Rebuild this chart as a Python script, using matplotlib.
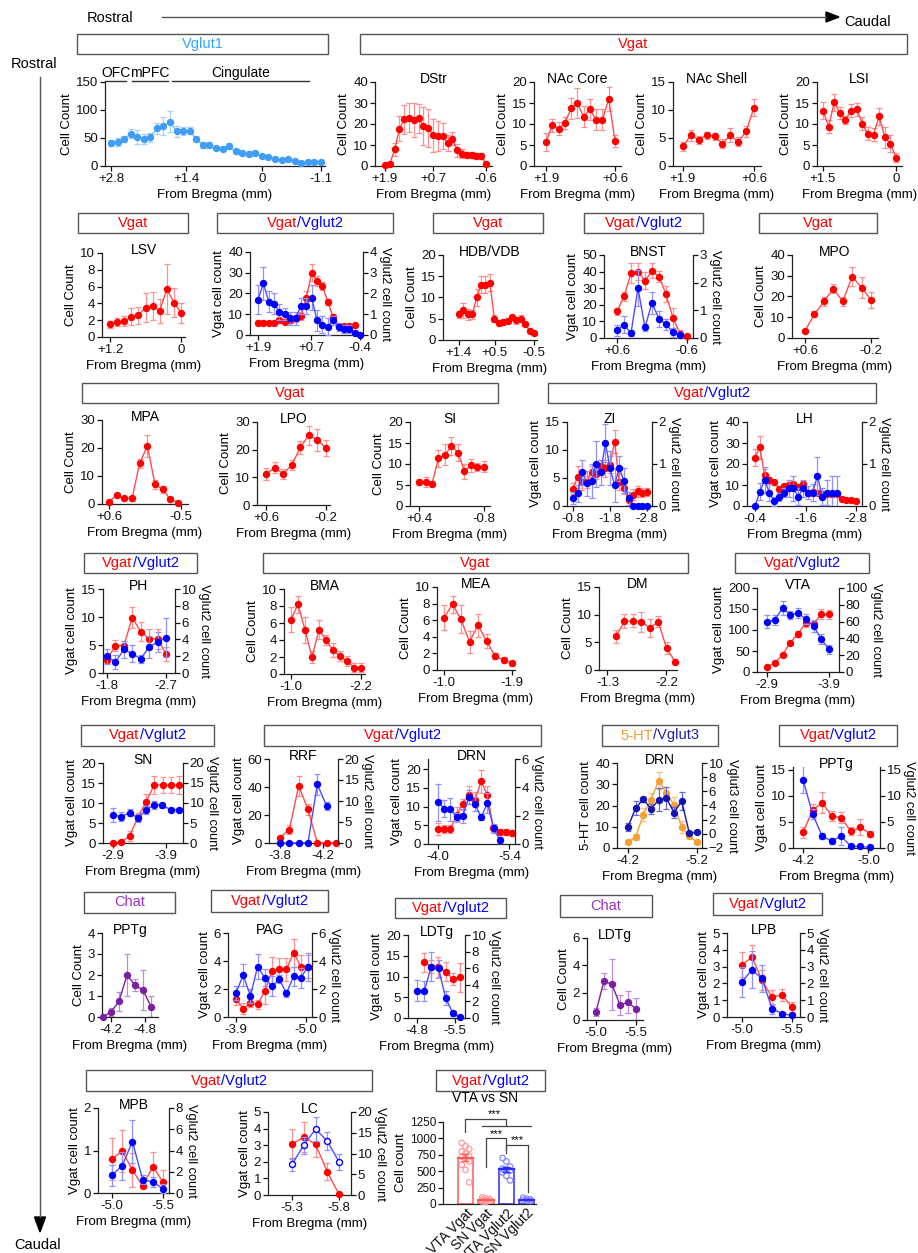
import numpy as np
import matplotlib
matplotlib.use("Agg")
import matplotlib.pyplot as plt
from matplotlib.patches import Rectangle, Polygon

plt.rcParams['font.family'] = ['Liberation Sans', 'DejaVu Sans']

# ---------------- values ----------------
vglut1_y = [41, 43, 48, 58, 52, 48, 51, 67, 71, 79, 62, 63, 63, 48, 38, 37, 32, 31, 36, 26, 24, 22, 23, 17, 16, 13, 10, 12, 9, 6, 8, 8, 7]
vglut1_err = [5, 7, 6, 8, 12, 9, 8, 10, 16, 19, 10, 7, 6, 6, 5, 5, 4, 4, 5, 4, 4, 4, 4, 3, 3, 3, 3, 3, 2, 2, 2, 2, 2]
dstr_y = [0.3, 1.1, 7.9, 17.8, 22.2, 23, 22, 22.7, 18.9, 18.1, 14.6, 14.3, 14.3, 11, 13, 7.5, 5.9, 5.1, 5.1, 4.8, 4.6, 1.1]
dstr_err = [0.5, 1, 3, 6, 7, 7, 8, 7, 9, 9, 8, 7, 6, 4, 3, 3, 2, 1.5, 1.5, 1.5, 1.5, 0.6]
nac_core_y = [5.7, 9.7, 8.9, 10.2, 13.7, 15, 11.7, 13.5, 11, 11, 16, 6]
nac_core_err = [2.2, 1.5, 1.5, 1.5, 2.5, 3.5, 2.5, 2.5, 2.5, 2.5, 2.8, 1.5]
nac_shell_y = [3.5, 5.5, 4.7, 5.5, 5.3, 4, 5.5, 4.3, 6.2, 10.4]
nac_shell_err = [0.8, 1, 0.7, 0.6, 0.6, 0.8, 1.2, 0.8, 1, 1.5]
lsi_y = [13.2, 9.4, 15.2, 12.6, 11, 13.2, 13.5, 10.1, 7.7, 7.5, 11.8, 6.9, 5.3, 2]
lsi_err = [2, 1.5, 2, 1.5, 1, 1.5, 1.5, 1.5, 1.5, 1.5, 2, 2.5, 2, 1]

lsv_y = [1.5, 1.8, 1.9, 2.4, 2.6, 3.5, 3.7, 3.1, 5.7, 4.1, 2.9]
lsv_err = [0.4, 0.5, 0.6, 1, 1, 1.7, 1.7, 1.4, 3, 1.7, 1.2]
ls_vgat = [6, 6, 6, 6, 7, 6.5, 7, 8, 9, 18, 30, 26, 23.5, 16, 8.5, 4.5, 4.5, 4.2, 4.6]
ls_vgat_err = [1, 1, 0.8, 0.8, 1, 1, 1, 1.5, 2, 3, 4, 2.5, 2, 1.5, 1.5, 1, 1, 0.8, 0.8]
ls_vglut2 = [1.7, 2.5, 1.6, 1.5, 1.1, 1.0, 0.8, 0.8, 1.4, 1.4, 1.8, 0.7, 0.5, 0.4, 0.7, 0.4, 0.3, 0.3, 0.1, 0.0]
ls_vglut2_err = [0.7, 0.8, 0.5, 0.5, 0.4, 0.3, 0.3, 0.3, 0.4, 0.4, 0.6, 0.5, 0.4, 0.4, 0.2, 0.2, 0.2, 0.2, 0.1, 0.05]
hdb_y = [6, 7, 6, 6, 10, 13, 13, 13.5, 5, 4, 4.2, 4.5, 5.3, 4.6, 5, 3.8, 2.2, 1.6]
hdb_err = [0.8, 1.8, 1.2, 1, 2, 2, 2, 2, 0.8, 0.7, 0.5, 0.6, 0.6, 0.8, 0.8, 0.5, 0.4, 0.4]
bnst_vgat = [16, 25, 39, 40, 34.5, 40.4, 37, 26.4, 12, 2.6, 1]
bnst_vgat_err = [2, 3, 6, 5, 5, 4.5, 3.5, 5, 6, 2, 1]
bnst_vglut2 = [0.28, 0.48, 0.18, 1.8, 0.38, 1.28, 0.68, 0.5, 0.2, 0.1]
bnst_vglut2_err = [0.2, 0.3, 0.1, 0.65, 0.12, 0.4, 0.3, 0.2, 0.15, 0.1]
mpo_y = [3.5, 11.5, 17.6, 23.7, 17.6, 29.6, 24.3, 18.4]
mpo_err = [0.8, 1.5, 2, 2.2, 2.3, 4.5, 5, 4]

mpa_y = [0.8, 3.2, 2, 2, 14.5, 20.8, 7, 5.2, 1.7, 0.5]
mpa_err = [0.5, 0.6, 0.5, 0.8, 1.5, 4, 1.5, 1.2, 0.7, 0.4]
lpo_y = [11.2, 13.4, 11.3, 14.4, 20.8, 25.2, 23.4, 20.6]
lpo_err = [2.2, 2, 1.8, 1.8, 2.5, 3.5, 4, 2.8]
si_y = [5.7, 5.7, 5.3, 11.4, 12.2, 14.3, 12.7, 8.3, 9.7, 9.3, 9.3]
si_err = [0.8, 1.2, 0.6, 2, 2.5, 2.2, 2, 1.8, 1.5, 1, 1.3]
zi_vgat = [3.1, 5.2, 4.3, 4.3, 6.1, 5.8, 7.2, 6.7, 7.4, 11.5, 4.3, 3.2, 1, 2, 2.6, 2.4, 2.5]
zi_vgat_err = [1, 2, 1.5, 1, 1, 1, 1, 1.5, 1.5, 2, 1.5, 1, 1, 1, 1, 0.8, 0.8]
zi_vglut2 = [0.19, 0.3, 0.8, 0.54, 0.6, 1.0, 0.8, 1.5, 0.9, 0.5, 0.9, 0.6, 0.18, 0, 0, 0, 0]
zi_vglut2_err = [0.15, 0.2, 0.3, 0.3, 0.4, 0.55, 0.3, 0.45, 0.4, 0.4, 0.3, 0.3, 0.15, 0, 0, 0, 0]
lh_vgat = [23, 28, 14.7, 12.3, 11.2, 8.3, 9.4, 10.2, 10.4, 9.1, 10.7, 6, 6.7, 6.4, 5.9, 5.9, 5.9, 5.9, 3.5, 3, 2.7, 2.6]
lh_vgat_err = [4, 5.5, 3, 1.5, 1, 1, 1, 1, 1, 1, 1, 1, 1, 1, 1, 1, 1, 1, 0.7, 0.5, 0.5, 0.5]
lh_vglut2 = [0, 0.34, 0.62, 0.32, 0.11, 0.22, 0.32, 0.42, 0.42, 0.22, 0.42, 0.32, 0.32, 0.72, 0.22, 0.32, 0.32, 0.32]
lh_vglut2_err = [0, 0.2, 0.3, 0.2, 0.1, 0.1, 0.1, 0.2, 0.3, 0.2, 0.2, 0.15, 0.2, 0.45, 0.2, 0.3, 0.4, 0.4]

ph_vgat = [2.4, 4.9, 4.9, 9.9, 7.4, 6.1, 6.1, 3.4]
ph_vgat_err = [0.6, 1, 0.8, 1.8, 1.7, 1.8, 1.8, 1.2]
ph_vglut2 = [2.0, 1.3, 2.8, 2.3, 1.7, 3.1, 3.7, 4.2]
ph_vglut2_err = [0.9, 0.8, 1, 1, 0.5, 1.3, 1.2, 2.3]
bma_y = [6.4, 8.2, 5.2, 2.0, 5.2, 4.0, 2.8, 2.1, 1.5, 0.75, 0.75]
bma_err = [1.5, 1, 1.5, 0.7, 1.1, 0.6, 0.8, 0.6, 0.6, 0.5, 0.5]
mea_y = [6.3, 7.9, 6.1, 3.4, 5.4, 3.5, 1.7, 1.2, 0.8]
mea_err = [1.5, 1, 1.7, 1.3, 1.4, 0.8, 0.4, 0.4, 0.3]
dm_y = [6.1, 8.8, 8.9, 8.7, 7.6, 8.7, 4.0, 1.5]
dm_err = [1.2, 1.3, 1.2, 1.8, 1.7, 1.0, 1.1, 0.4]
vta_vgat = [12, 22, 41, 70, 91, 117, 115, 137, 137]
vta_vgat_err = [3, 4, 4, 5, 7, 10, 8, 12, 11]
vta_vglut2 = [60, 62, 76, 68, 70, 63, 55, 39, 27]
vta_vglut2_err = [8, 6, 8, 5, 6, 6, 7, 6, 5]

sn_vgat = [0, 0.3, 1.7, 6.4, 10.3, 14.5, 14.5, 14.4, 14.5]
sn_vgat_err = [0.2, 0.3, 1.2, 1, 2, 2.3, 2, 2, 2.2]
sn_vglut2 = [7, 6.6, 7.6, 6.3, 8.2, 9.6, 9.4, 8.3, 8.3]
sn_vglut2_err = [1.7, 1.2, 0.8, 1, 1, 1, 0.6, 0.5, 0.5]
rrf_vgat = [3.8, 9.6, 40.8, 24, 0, 0, 0]
rrf_vgat_err = [1, 3, 7, 4, 0, 0, 0]
rrf_vglut2 = [0, 0, 0, 0, 14, 8.8]
rrf_vglut2_err = [0, 0, 0, 0, 2.5, 1]
drn_vgat = [4, 4, 4, 7.8, 10.6, 13.1, 11.8, 16.7, 13.1, 4.2, 3.3, 3.3, 3.0]
drn_vgat_err = [1.5, 1, 1, 2, 1.5, 2.5, 2, 3, 2.5, 1, 0.8, 0.8, 0.8]
drn_vglut2 = [2.95, 2.5, 2.45, 1.9, 2.0, 3.3, 2.8, 1.9, 2.9, 1.1, 0.3]
drn_vglut2_err = [1.3, 0.6, 0.8, 0.3, 0.5, 0.5, 0.5, 0.2, 0.7, 0.3, 0.2]
drn_5ht = [2.7, 5.2, 15.7, 22.7, 31.7, 25.9, 20.4, 9.9, 5.5, 2.7]
drn_5ht_err = [1, 1.5, 3, 3, 4, 3, 3.5, 3, 1, 1]
drn_vglut3 = [0.97, 3.65, 4.9, 3.5, 4.8, 5.06, 3.0, 4.6, 0.1, 0.26]
drn_vglut3_err = [0.5, 1.0, 0.35, 0.7, 1.6, 1.6, 0.8, 1.3, 0.2, 0.2]
pptg_vgat = [3.0, 7.2, 8.7, 6.1, 5.8, 3.2, 4.0, 2.7]
pptg_vgat_err = [1, 1.2, 2, 1, 1, 0.8, 1.5, 0.6]
pptg_vglut2 = [13.1, 6.5, 2.3, 1.3, 2.3, 0.3, 0.3, 0.1]
pptg_vglut2_err = [2.5, 1, 0.5, 0.6, 1.7, 0.15, 0.15, 0.05]

pptg_chat = [0, 0.24, 0.75, 2.0, 1.52, 1.28, 0.5]
pptg_chat_err = [0, 0.2, 0.45, 1.0, 0.3, 0.95, 0.5]
pag_vgat = [1.27, 0.6, 1.0, 0.9, 1.85, 3.3, 3.4, 3.4, 4.6, 3.6, 3.6]
pag_vgat_err = [0.4, 0.4, 0.3, 0.3, 0.9, 1, 0.8, 0.8, 1, 0.8, 0.8]
pag_vglut2 = [1.7, 3.0, 1.5, 3.6, 2.8, 2.2, 2.7, 1.7, 2.9, 2.8, 3.6]
pag_vglut2_err = [0.5, 0.8, 0.5, 0.9, 0.6, 0.7, 0.3, 0.25, 0.7, 0.7, 1.0]
ldtg_vgat = [13.4, 12.4, 12.2, 11.2, 9.4, 9.8]
ldtg_vgat_err = [2.3, 1.6, 2.5, 2.2, 1.5, 3.5]
ldtg_vglut2 = [3.3, 3.2, 6.2, 6.0, 2.4, 0.6, 0.1]
ldtg_vglut2_err = [1.3, 1.2, 1.7, 1.0, 0.8, 0.3, 0.1]
ldtg_chat = [0.6, 2.86, 2.6, 1.1, 1.3, 0.8]
ldtg_chat_err = [0.3, 0.6, 1.9, 0.7, 0.8, 0.8]
lpb_vgat = [3.12, 3.55, 2.2, 1.17, 1.33, 0.58]
lpb_vgat_err = [0.75, 0.75, 0.6, 0.45, 0.35, 0.3]
lpb_vglut2 = [2.1, 2.8, 2.3, 0.5, 0.2, 0.1]
lpb_vglut2_err = [0.9, 1.1, 0.8, 0.3, 0.1, 0.05]

mpb_vgat = [0.8, 0.99, 0.54, 0.17, 0.62, 0.26]
mpb_vgat_err = [0.5, 0.5, 0.4, 0.05, 0.35, 0.28]
mpb_vglut2 = [1.68, 2.56, 4.84, 1.27, 1.04, 0.41]
mpb_vglut2_err = [1, 1.3, 2, 0.4, 0.5, 0.4]
lc_vgat = [3.06, 3.5, 3.06, 1.4, 0.04]
lc_vgat_err = [0.9, 0.9, 0.8, 0.5, 0.05]
lc_vglut2 = [7.4, 12, 15.9, 13, 8.0]
lc_vglut2_err = [1.6, 2, 2.8, 2.2, 2]

bar_names = ['VTA Vgat', 'SN Vgat', 'VTA Vglut2', 'SN Vglut2']
vta_vgat_cells = [930, 880, 840, 800, 770, 740, 720, 700, 650, 600, 520, 330]
sn_vgat_cells = [100, 85, 75, 65, 55, 50, 40, 30]
vta_vglut2_cells = [700, 650, 570, 540, 520, 510, 480, 430, 360]
sn_vglut2_cells = [95, 80, 70, 60, 55, 45]

# ---------------- figure ----------------
W, H = 918, 1253
fig = plt.figure(figsize=(W / 100, H / 100), dpi=100)
bg = fig.add_axes([0, 0, 1, 1])
bg.set_xlim(0, W)
bg.set_ylim(H, 0)
bg.axis('off')

RED = dict(pt='#ff0000', line='#ff4d4d', err='#ff9090')
BLUE = dict(pt='#0000ff', line='#4d4dff', err='#9090ff')
LBLUE = dict(pt='#3f9df5', line='#7dbcf7', err='#a6d0fa')
ORANGE = dict(pt='#f5a030', line='#f5a030', err='#f8c47a')
DBLUE = dict(pt='#1414b4', line='#1414b4', err='#6a6ad0')
PURPLE = dict(pt='#7a1fa0', line='#7a1fa0', err='#c08ad8')
T_RED, T_BLUE = '#ff0000', '#0000ff'
FS = 9.5


def prism(ax, fs=FS):
    ax.patch.set_visible(False)
    for s in ['top', 'right']:
        ax.spines[s].set_visible(False)
    for s in ['left', 'bottom']:
        ax.spines[s].set_color('#222222')
        ax.spines[s].set_linewidth(0.9)
    ax.tick_params(direction='out', length=3.5, width=0.9, labelsize=fs, pad=1.5, colors='#111111')


def panel(rect, xr, pads, xticks, xlabels, ylim, yticks, title=None, ylabel='Cell Count'):
    l, t, r, b = rect
    ax = fig.add_axes([l / W, 1 - b / H, (r - l) / W, (b - t) / H])
    s = (xr[0] - xr[1]) / ((r - l) - pads[0] - pads[1])
    ax.set_xlim(xr[0] + pads[0] * s, xr[1] - pads[1] * s)
    ax.set_xticks(xticks)
    ax.set_xticklabels(xlabels)
    ax.set_ylim(*ylim)
    ax.set_yticks(yticks)
    prism(ax)
    ax.set_ylabel(ylabel, fontsize=FS, labelpad=2)
    ax.set_xlabel('From Bregma (mm)', fontsize=FS, labelpad=3)
    if title:
        ax.annotate(title, (0.5, 1), xycoords='axes fraction', xytext=(0, 3),
                    textcoords='offset pixels', ha='center', va='center', fontsize=FS + 0.5)
    return ax


def twin(ax, ylim, yticks, ylabel='Vglut2 cell count'):
    a2 = ax.twinx()
    a2.set_ylim(*ylim)
    a2.set_yticks(yticks)
    a2.patch.set_visible(False)
    for s in ['top', 'left', 'bottom']:
        a2.spines[s].set_visible(False)
    a2.spines['right'].set_color('#222222')
    a2.spines['right'].set_linewidth(0.9)
    a2.tick_params(direction='out', length=3.5, width=0.9, labelsize=FS, pad=1.2, colors='#111111')
    a2.set_ylabel(ylabel, rotation=270, va='bottom', fontsize=FS - 0.3, labelpad=1.5)
    return a2


def series(ax, xr, y, err, c, hollow=False):
    x = np.linspace(xr[0], xr[1], len(y))
    ax.errorbar(x, y, yerr=err, fmt='none', ecolor=c['err'], elinewidth=0.9,
                capsize=2, capthick=0.9, zorder=2)
    ax.plot(x, y, '-', color=c['line'], lw=1, clip_on=False, zorder=3)
    ax.plot(x, y, 'o', ms=4.3, mec=c['pt'], mfc='white' if hollow else c['pt'],
            mew=1, clip_on=False, zorder=4)


def label_box(rect, parts, fs=10.5):
    l, t, r, b = rect
    bg.add_patch(Rectangle((l, t), r - l, b - t, fill=False, ec='#555555', lw=1))
    ren = fig.canvas.get_renderer()
    widths = []
    for s, c in parts:
        tt = bg.text(0, 0, s, fontsize=fs)
        widths.append(tt.get_window_extent(ren).width)
        tt.remove()
    x = (l + r) / 2 - sum(widths) / 2
    for (s, c), w in zip(parts, widths):
        bg.text(x, (t + b) / 2, s, color=c, fontsize=fs, ha='left', va='center')
        x += w


VGAT = [('Vgat', T_RED)]
VV = [('Vgat', T_RED), ('/Vglut2', T_BLUE)]
CHAT = [('Chat', '#9a32c8')]

# rostral -> caudal arrows
bg.text(110, 18, 'Rostral', fontsize=10.5, ha='center', va='center')
bg.plot([162, 826], [17, 17], color='#555555', lw=1)
bg.add_patch(Polygon([(826, 12), (839, 17), (826, 22)], color='black'))
bg.text(868, 22, 'Caudal', fontsize=10.5, ha='center', va='center')
bg.text(34, 64, 'Rostral', fontsize=10.5, ha='center', va='center')
bg.plot([40, 40], [77, 1217], color='#555555', lw=1)
bg.add_patch(Polygon([(34.5, 1217), (45.5, 1217), (40, 1232)], color='black'))
bg.text(38, 1245, 'Caudal', fontsize=10.5, ha='center', va='center')

# ---------------- row 1 ----------------
label_box((77, 34, 328, 54), [('Vglut1', '#2ea6ff')])
label_box((360, 34, 907, 54), VGAT)
ax = panel((105, 82, 325, 166), (2.8, -1.1), (6, 4), [2.8, 1.4, 0, -1.1],
           ['+2.8', '+1.4', '0', '-1.1'], (0, 150), [0, 50, 100, 150])
series(ax, (2.8, -1.1), vglut1_y, vglut1_err, LBLUE)
for x0, x1, name in [(105, 126, 'OFC'), (132, 168, 'mPFC'), (172, 309, 'Cingulate')]:
    bg.plot([x0, x1], [81, 81], color='#333333', lw=1)
    bg.text((x0 + x1) / 2, 73, name, fontsize=10, ha='center', va='center')

ax = panel((375, 82, 492, 166), (1.9, -0.6), (10, 6), [1.9, 0.7, -0.6], ['+1.9', '+0.7', '-0.6'],
           (0, 40), [0, 10, 20, 30, 40], 'DStr')
series(ax, (1.9, -0.6), dstr_y, dstr_err, RED)
ax = panel((534, 82, 621, 166), (1.9, 0.6), (12, 6), [1.9, 0.6], ['+1.9', '+0.6'],
           (0, 20), [0, 5, 10, 15, 20], 'NAc Core')
series(ax, (1.9, 0.6), nac_core_y, nac_core_err, RED)
ax = panel((673, 82, 761, 166), (1.9, 0.6), (10, 7), [1.9, 0.6], ['+1.9', '+0.6'],
           (0, 15), [0, 5, 10, 15], 'NAc Shell')
series(ax, (1.9, 0.6), nac_shell_y, nac_shell_err, RED)
ax = panel((817, 82, 902, 166), (1.5, 0), (6, 6), [1.5, 0], ['+1.5', '0'],
           (0, 20), [0, 5, 10, 15, 20], 'LSI')
series(ax, (1.5, 0), lsi_y, lsi_err, RED)

# ---------------- row 2 ----------------
label_box((78, 213, 188, 233), VGAT)
label_box((217, 213, 393, 233), VV)
label_box((433, 213, 543, 233), VGAT)
label_box((584, 213, 703, 233), VV)
label_box((759, 213, 877, 233), VGAT)
ax = panel((102, 253, 185, 337), (1.2, 0), (8, 4), [1.2, 0], ['+1.2', '0'],
           (0, 10), [0, 2, 4, 6, 8, 10], 'LSV')
series(ax, (1.2, 0), lsv_y, lsv_err, RED)
ax = panel((250, 252, 363, 335), (1.9, -0.4), (8, 3), [1.9, 0.7, -0.4], ['+1.9', '+0.7', '-0.4'],
           (0, 40), [0, 10, 20, 30, 40], ylabel='Vgat cell count')
a2 = twin(ax, (0, 4), [0, 1, 2, 3, 4])
series(ax, (1.9, -0.28), ls_vgat, ls_vgat_err, RED)
series(a2, (1.9, -0.4), ls_vglut2, ls_vglut2_err, BLUE)
ax = panel((443, 255, 537, 340), (1.4, -0.5), (16, 3), [1.4, 0.5, -0.5], ['+1.4', '+0.5', '-0.5'],
           (0, 20), [0, 5, 10, 15, 20], 'HDB/VDB')
series(ax, (1.4, -0.5), hdb_y, hdb_err, RED)
ax = panel((604, 255, 693, 338), (0.6, -0.6), (13, 6), [0.6, -0.6], ['+0.6', '-0.6'],
           (0, 50), [0, 10, 20, 30, 40, 50], 'BNST', ylabel='Vgat cell count')
a2 = twin(ax, (0, 3), [0, 1, 2, 3])
series(ax, (0.6, -0.6), bnst_vgat, bnst_vgat_err, RED)
series(a2, (0.6, -0.48), bnst_vglut2, bnst_vglut2_err, BLUE)
ax = panel((792, 255, 878, 338), (0.6, -0.2), (13, 7), [0.6, -0.2], ['+0.6', '-0.2'],
           (0, 40), [0, 10, 20, 30, 40], 'MPO')
series(ax, (0.6, -0.2), mpo_y, mpo_err, RED)

# ---------------- row 3 ----------------
label_box((82, 383, 498, 403), VGAT)
label_box((548, 383, 876, 403), VV)
ax = panel((102, 420, 188, 504), (0.6, -0.45), (7, 10), [0.6, -0.5], ['+0.6', '-0.5'],
           (0, 30), [0, 10, 20, 30], 'MPA')
series(ax, (0.6, -0.45), mpa_y, mpa_err, RED)
ax = panel((257, 422, 330, 505), (0.6, -0.2), (9, 4), [0.6, -0.2], ['+0.6', '-0.2'],
           (0, 30), [0, 10, 20, 30], 'LPO')
series(ax, (0.6, -0.2), lpo_y, lpo_err, RED)
ax = panel((410, 422, 490, 506), (0.4, -0.8), (9, 6), [0.4, -0.8], ['+0.4', '-0.8'],
           (0, 20), [0, 5, 10, 15, 20], 'SI')
series(ax, (0.4, -0.8), si_y, si_err, RED)
ax = panel((567, 422, 652, 506), (-0.8, -2.8), (6, 5), [-0.8, -1.8, -2.8], ['-0.8', '-1.8', '-2.8'],
           (0, 15), [0, 5, 10, 15], 'ZI', ylabel='Vgat cell count')
a2 = twin(ax, (0, 2), [0, 1, 2])
series(ax, (-0.8, -2.8), zi_vgat, zi_vgat_err, RED)
series(a2, (-0.8, -2.8), zi_vglut2, zi_vglut2_err, BLUE)
ax = panel((747, 422, 862, 506), (-0.4, -2.8), (8, 6), [-0.4, -1.6, -2.8], ['-0.4', '-1.6', '-2.8'],
           (0, 40), [0, 10, 20, 30, 40], 'LH', ylabel='Vgat cell count')
a2 = twin(ax, (0, 2), [0, 1, 2])
series(ax, (-0.4, -2.8), lh_vgat, lh_vgat_err, RED)
series(a2, (-0.4, -2.34), lh_vglut2, lh_vglut2_err, BLUE)

# ---------------- row 4 ----------------
label_box((84, 553, 197, 573), VV)
label_box((263, 553, 688, 573), VGAT)
label_box((735, 553, 869, 573), VV)
ax = panel((103, 589, 175, 673), (-1.8, -2.7), (4, 9), [-1.8, -2.7], ['-1.8', '-2.7'],
           (0, 15), [0, 5, 10, 15], 'PH', ylabel='Vgat cell count')
a2 = twin(ax, (0, 10), [0, 2, 4, 6, 8, 10])
series(ax, (-1.8, -2.7), ph_vgat, ph_vgat_err, RED)
series(a2, (-1.8, -2.7), ph_vglut2, ph_vglut2_err, BLUE)
ax = panel((284, 589, 365, 674), (-1.0, -2.2), (7, 4), [-1.0, -2.2], ['-1.0', '-2.2'],
           (0, 10), [0, 2, 4, 6, 8, 10], 'BMA')
series(ax, (-1.0, -2.2), bma_y, bma_err, RED)
ax = panel((437, 587, 515, 670), (-1.0, -1.9), (7, 3), [-1.0, -1.9], ['-1.0', '-1.9'],
           (0, 10), [0, 2, 4, 6, 8, 10], 'MEA')
series(ax, (-1.0, -1.9), mea_y, mea_err, RED)
ax = panel((599, 587, 677, 670), (-1.43, -2.33), (17, 2), [-1.3, -2.2], ['-1.3', '-2.2'],
           (0, 15), [0, 5, 10, 15], 'DM')
series(ax, (-1.43, -2.33), dm_y, dm_err, RED)
ax = panel((757, 588, 839, 672), (-2.9, -3.9), (10, 10), [-2.9, -3.9], ['-2.9', '-3.9'],
           (0, 200), [0, 50, 100, 150, 200], 'VTA', ylabel='Vgat cell count')
a2 = twin(ax, (0, 100), [0, 20, 40, 60, 80, 100])
series(ax, (-2.9, -3.9), vta_vgat, vta_vgat_err, RED)
series(a2, (-2.9, -3.9), vta_vglut2, vta_vglut2_err, BLUE)

# ---------------- row 5 ----------------
label_box((81, 725, 214, 746), VV)
label_box((264, 725, 541, 746), VV)
label_box((602, 725, 718, 746), [('5-HT', '#f5a030'), ('/Vglut3', '#1f1fa0')])
label_box((779, 725, 897, 746), VV)
ax = panel((103, 763, 183, 843), (-2.9, -4.15), (10, 4), [-2.9, -3.9], ['-2.9', '-3.9'],
           (0, 20), [0, 5, 10, 15, 20], 'SN', ylabel='Vgat cell count')
a2 = twin(ax, (0, 20), [0, 5, 10, 15, 20])
series(ax, (-2.9, -4.15), sn_vgat, sn_vgat_err, RED)
series(a2, (-2.9, -4.15), sn_vglut2, sn_vglut2_err, BLUE)
ax = panel((269, 759, 338, 843), (-3.8, -4.32), (11, 2), [-3.8, -4.2], ['-3.8', '-4.2'],
           (0, 60), [0, 20, 40, 60], 'RRF', ylabel='Vgat cell count')
a2 = twin(ax, (0, 20), [0, 5, 10, 15, 20])
series(ax, (-3.8, -4.32), rrf_vgat, rrf_vgat_err, RED)
series(a2, (-3.8, -4.233), rrf_vglut2, rrf_vglut2_err, BLUE)
ax = panel((428, 759, 515, 844), (-4.0, -5.45), (10, 3), [-4.0, -5.4], ['-4.0', '-5.4'],
           (0, 22.7), [0, 5, 10, 15, 20], 'DRN', ylabel='Vgat cell count')
a2 = twin(ax, (0, 6), [0, 2, 4, 6])
series(ax, (-4.0, -5.45), drn_vgat, drn_vgat_err, RED)
series(a2, (-4.0, -5.21), drn_vglut2, drn_vglut2_err, BLUE)
ax = panel((617, 763, 702, 848), (-4.2, -5.2), (11, 5), [-4.2, -5.2], ['-4.2', '-5.2'],
           (0, 40), [0, 10, 20, 30, 40], 'DRN', ylabel='5-HT cell count')
a2 = twin(ax, (-2, 10), [-2, 0, 2, 4, 6, 8, 10], ylabel='Vglut3 cell count')
series(ax, (-4.2, -5.2), drn_5ht, drn_5ht_err, ORANGE)
series(a2, (-4.2, -5.2), drn_vglut3, drn_vglut3_err, DBLUE)
ax = panel((793, 767, 880, 848), (-4.2, -5.02), (10, 10), [-4.2, -5.0], ['-4.2', '-5.0'],
           (0, 15.5), [0, 5, 10, 15], 'PPTg', ylabel='Vgat cell count')
a2 = twin(ax, (0, 15.5), [0, 5, 10, 15])
series(ax, (-4.2, -5.02), pptg_vgat, pptg_vgat_err, RED)
series(a2, (-4.2, -5.02), pptg_vglut2, pptg_vglut2_err, BLUE)

# ---------------- row 6 ----------------
label_box((84, 892, 175, 913), CHAT)
label_box((211, 890, 328, 912), VV)
label_box((395, 898, 506, 918), VV)
label_box((560, 895, 652, 917), CHAT)
label_box((713, 893, 822, 915), VV)
ax = panel((102, 933, 158, 1017), (-4.06, -4.9), (1, 7), [-4.2, -4.8], ['-4.2', '-4.8'],
           (0, 4), [0, 1, 2, 3, 4], 'PPTg')
series(ax, (-4.06, -4.9), pptg_chat, pptg_chat_err, PURPLE)
ax = panel((228, 933, 312, 1017), (-3.9, -5.03), (8, 4), [-3.9, -5.0], ['-3.9', '-5.0'],
           (0, 6), [0, 2, 4, 6], 'PAG', ylabel='Vgat cell count')
a2 = twin(ax, (0, 6), [0, 2, 4, 6])
series(ax, (-3.9, -5.03), pag_vgat, pag_vgat_err, RED)
series(a2, (-3.9, -5.03), pag_vglut2, pag_vglut2_err, BLUE)
ax = panel((408, 935, 465, 1018), (-4.8, -5.59), (9, 5), [-4.8, -5.5], ['-4.8', '-5.5'],
           (0, 20), [0, 5, 10, 15, 20], 'LDTg', ylabel='Vgat cell count')
a2 = twin(ax, (0, 10), [0, 2, 4, 6, 8, 10])
series(ax, (-4.93, -5.59), ldtg_vgat, ldtg_vgat_err, RED)
series(a2, (-4.8, -5.59), ldtg_vglut2, ldtg_vglut2_err, BLUE)
ax = panel((587, 938, 643, 1020), (-5.0, -5.5), (9, 7), [-5.0, -5.5], ['-5.0', '-5.5'],
           (0, 6), [0, 2, 4, 6], 'LDTg')
series(ax, (-5.0, -5.5), ldtg_chat, ldtg_chat_err, PURPLE)
ax = panel((727, 933, 800, 1017), (-5.0, -5.5), (15, 8), [-5.0, -5.5], ['-5.0', '-5.5'],
           (0, 5), [0, 1, 2, 3, 4, 5], 'LPB', ylabel='Vgat cell count')
a2 = twin(ax, (0, 5), [0, 1, 2, 3, 4, 5])
series(ax, (-5.0, -5.5), lpb_vgat, lpb_vgat_err, RED)
series(a2, (-5.0, -5.5), lpb_vglut2, lpb_vglut2_err, BLUE)

# ---------------- row 7 ----------------
label_box((86, 1070, 372, 1091), VV)
label_box((436, 1070, 545, 1091), VV)
ax = panel((98, 1108, 169, 1193), (-5.0, -5.5), (14, 6), [-5.0, -5.5], ['-5.0', '-5.5'],
           (0, 2), [0, 1, 2], 'MPB', ylabel='Vgat cell count')
a2 = twin(ax, (0, 8), [0, 2, 4, 6, 8])
series(ax, (-5.0, -5.5), mpb_vgat, mpb_vgat_err, RED)
series(a2, (-5.0, -5.5), mpb_vglut2, mpb_vglut2_err, BLUE)
ax = panel((268, 1112, 351, 1195), (-5.3, -5.8), (24, 12), [-5.3, -5.8], ['-5.3', '-5.8'],
           (0, 5), [0, 1, 2, 3, 4, 5], 'LC', ylabel='Vgat cell count')
a2 = twin(ax, (0, 20), [0, 5, 10, 15, 20])
series(ax, (-5.3, -5.8), lc_vgat, lc_vgat_err, RED)
series(a2, (-5.3, -5.8), lc_vglut2, lc_vglut2_err, BLUE, hollow=True)

# bar chart VTA vs SN
l, t, r, b = 443, 1122, 536, 1204
ax = fig.add_axes([l / W, 1 - b / H, (r - l) / W, (b - t) / H])
prism(ax, fs=8.5)
cells = [vta_vgat_cells, sn_vgat_cells, vta_vglut2_cells, sn_vglut2_cells]
bar_cols = ['#ff5a5a', '#ff5a5a', '#2a2aff', '#2a2aff']
dot_cols = ['#ff9a9a', '#ff9a9a', '#8a8aff', '#8a8aff']
for i, (pts, c, dc) in enumerate(zip(cells, bar_cols, dot_cols)):
    pts = np.array(pts, dtype=float)
    m = pts.mean()
    sem = pts.std(ddof=1) / np.sqrt(len(pts))
    ax.bar(i, m, width=0.75, facecolor='white', edgecolor=c, lw=1.1, zorder=2)
    offs = ((np.arange(len(pts)) % 3) - 1) * 0.18
    ax.scatter(i + offs, pts, s=16, facecolors='none', edgecolors=dc, lw=0.9, zorder=3, clip_on=False)
    ax.errorbar(i, m, yerr=sem, color=c, capsize=3, lw=1, zorder=4)
    ax.plot([i - 0.375, i + 0.375], [m, m], color=c, lw=1.6, zorder=4)
ax.set_xlim(-1.1, 3.45)
ax.set_ylim(0, 1250)
ax.set_yticks([0, 250, 500, 750, 1000, 1250])
ax.set_xticks(range(4))
ax.set_xticklabels(bar_names, rotation=45, ha='right', rotation_mode='anchor', fontsize=FS + 0.5)
ax.tick_params(axis='x', length=0)
ax.set_ylabel('Cell count', fontsize=FS, labelpad=2)
ax.annotate('VTA vs SN', (0.5, 1), xycoords='axes fraction', xytext=(-4, 24),
            textcoords='offset pixels', ha='center', va='center', fontsize=FS + 0.5)
brk = dict(color='#444444', lw=0.9, clip_on=False)
ax.plot([0, 0, 2, 2], [1100, 1300, 1300, 1190], **brk)
ax.plot([0.8, 3.2], [1190, 1190], **brk)
ax.text(1.4, 1370, '***', ha='center', va='center', fontsize=8)
ax.plot([1, 1, 2, 2], [560, 1000, 1000, 780], **brk)
ax.text(1.5, 1065, '***', ha='center', va='center', fontsize=8)
ax.plot([2, 2, 3.05, 3.05], [830, 900, 900, 180], **brk)
ax.text(2.55, 975, '***', ha='center', va='center', fontsize=8)

fig.savefig('out.png', dpi=100)
